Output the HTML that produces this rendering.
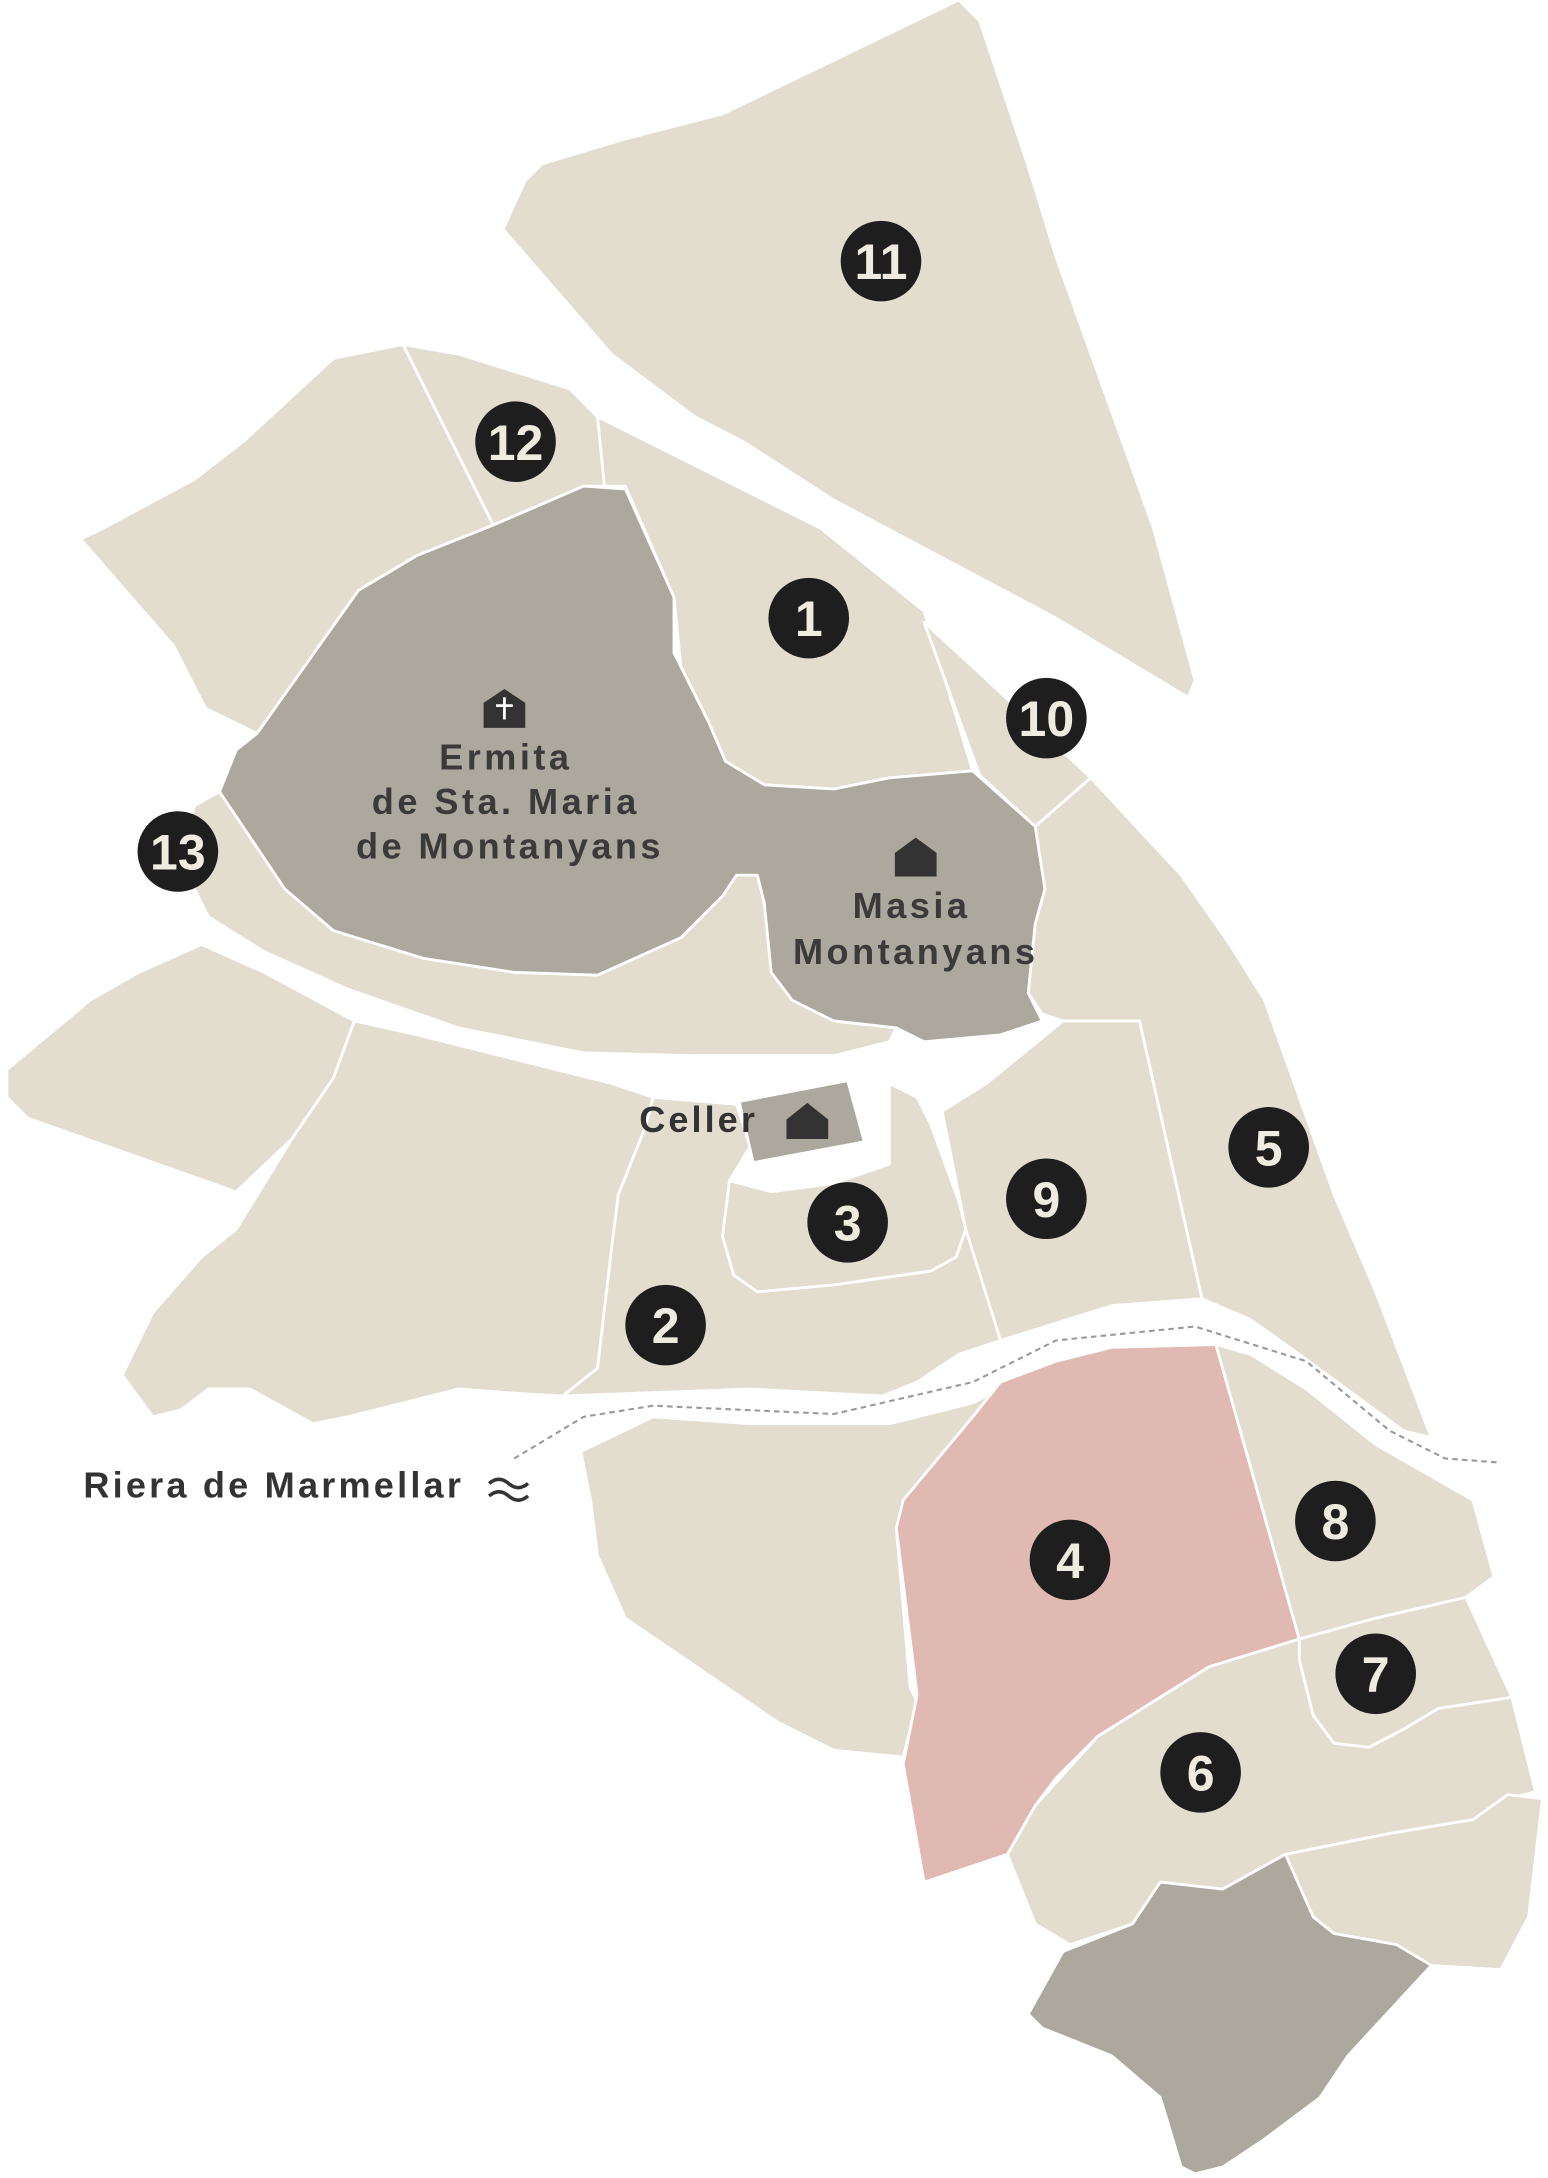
<!DOCTYPE html>
<html><head><meta charset="utf-8"><style>
html,body{margin:0;padding:0;background:#fff;}
svg{display:block;}
text{font-family:"Liberation Sans",sans-serif;font-weight:bold;}
</style></head><body>
<svg width="1548" height="2178" viewBox="0 0 1114 1568" preserveAspectRatio="none" xmlns="http://www.w3.org/2000/svg">
<g stroke="#ffffff" stroke-width="2" stroke-linejoin="round">
<polygon fill="#e3ddd0" points="362,165 378,130 390,118 450,100 520,82 690,0 705,15 740,120 760,185 830,380 860,490 855,502 760,445 600,360 535,318 500,300 440,255"/>
<polygon fill="#e3ddd0" points="58,388 75,380 140,345 175,318 240,258 290,248 355,378 300,400 258,425 185,528 148,510 125,465"/>
<polygon fill="#e3ddd0" points="290,248 330,255 410,280 430,300 435,350 420,350 355,378"/>
<polygon fill="#e3ddd0" points="430,300 490,330 590,380 665,440 700,555 640,560 600,568 550,565 522,548 510,520 490,480 485,430 450,350 435,350"/>
<polygon fill="#e3ddd0" points="665,448 700,480 785,560 745,595 705,558"/>
<polygon fill="#e3ddd0" points="158,570 205,640 240,670 305,690 370,700 430,702 490,675 520,645 530,630 545,630 550,650 555,700 570,720 600,735 645,740 640,750 600,760 500,760 420,758 330,740 250,712 190,685 150,660 130,620 140,580"/>
<polygon fill="#ada89e" points="185,528 258,425 300,400 355,378 420,350 450,352 485,430 485,470 510,520 522,548 550,565 600,568 640,560 700,555 745,595 752,640 745,665 740,715 750,735 720,745 665,750 645,740 600,735 570,720 555,700 550,650 545,630 530,630 520,645 490,675 430,702 370,700 305,690 240,670 205,640 158,570 170,540"/>
<polygon fill="#e3ddd0" points="745,595 785,560 850,630 885,680 910,720 935,790 960,860 990,930 1030,1035 1010,1030 935,975 900,950 865,935 820,735 765,735 750,730 740,715 745,665 752,640"/>
<polygon fill="#e3ddd0" points="5,770 5,790 20,805 170,858 210,820 240,776 255,735 190,700 145,680 100,700 65,720"/>
<polygon fill="#e3ddd0" points="255,735 300,745 440,780 470,790 465,810 445,860 440,900 430,985 405,1005 370,1003 330,1000 250,1020 225,1025 180,1000 150,1000 130,1015 110,1020 88,990 110,945 145,905 170,885 210,820 240,776"/>
<polygon fill="#e3ddd0" points="470,790 530,795 540,825 525,850 520,890 528,918 545,930 600,925 670,915 690,895 700,870 720,965 690,975 660,995 635,1005 540,1000 405,1005 430,985 440,900 445,860 465,810"/>
<polygon fill="#e3ddd0" points="525,850 555,858 600,852 640,838 640,780 660,790 670,810 690,865 695,885 688,905 670,915 600,925 545,930 528,918 520,890"/>
<polygon fill="#e3ddd0" points="678,800 710,780 765,735 820,735 865,935 800,940 720,965 695,885"/>
<polygon fill="#ada89e" points="532,793 610,778 622,822 542,837"/>
<polygon fill="#e3ddd0" points="418,1045 470,1020 540,1025 640,1025 700,1010 720,1000 720,1020 690,1050 650,1085 645,1100 655,1215 660,1225 650,1265 600,1260 560,1240 450,1165 430,1120 425,1080"/>
<polygon fill="#e0b9b3" points="720,995 760,980 800,970 875,968 935,1180 870,1200 830,1225 790,1250 760,1280 745,1300 725,1335 665,1355 650,1270 660,1220 645,1100 650,1080 700,1020"/>
<polygon fill="#e3ddd0" points="875,968 900,975 940,1000 990,1040 1060,1080 1075,1135 1055,1150 990,1165 935,1180"/>
<polygon fill="#e3ddd0" points="935,1180 990,1165 1055,1150 1088,1222 1035,1230 1010,1245 985,1258 960,1255 945,1235 935,1195"/>
<polygon fill="#e3ddd0" points="935,1180 935,1195 945,1235 960,1255 985,1258 1010,1245 1035,1230 1088,1222 1105,1290 1085,1295 1060,1310 1000,1320 925,1335 880,1360 835,1355 815,1385 770,1400 745,1385 725,1335 745,1300 790,1250 830,1225 870,1200"/>
<polygon fill="#e3ddd0" points="925,1335 1000,1320 1060,1310 1085,1292 1110,1295 1100,1380 1080,1418 1030,1415 1005,1400 960,1392 945,1380"/>
<polygon fill="#ada89e" points="835,1355 880,1360 925,1335 945,1380 960,1392 1005,1400 1030,1415 970,1480 950,1510 910,1540 880,1560 860,1565 850,1560 835,1510 800,1480 750,1460 740,1450 765,1405 815,1385"/>
</g>
<polyline fill="none" stroke="#999" stroke-width="1.5" stroke-dasharray="4,3" points="370,1050 420,1020 470,1012 600,1018 700,995 760,965 860,955 940,980 1000,1030 1040,1050 1080,1053"/>
<text x="60" y="1078" font-size="26" fill="#333" letter-spacing="2.3">Riera de Marmellar</text>
<path d="M352,1068 q7,-6 14,0 t14,0 M352,1077 q7,-6 14,0 t14,0" fill="none" stroke="#333" stroke-width="2.5"/>
<path d="M348,506 L363,496 L378,506 L378,524 L348,524 Z" fill="#333"/>
<path d="M363,502 v16 M357,508 h12" stroke="#fff" stroke-width="2"/>
<path d="M644,614 L659,603 L674,614 L674,631 L644,631 Z" fill="#333"/>
<path d="M566,806 L581,794 L596,806 L596,820 L566,820 Z" fill="#333"/>
<g font-size="26" fill="#3a3a3a" text-anchor="middle" letter-spacing="2.5">
<text x="364" y="554">Ermita</text>
<text x="364" y="586">de Sta. Maria</text>
<text x="367" y="618">de Montanyans</text>
<text x="656" y="661">Masia</text>
<text x="659" y="694">Montanyans</text>
</g>
<text x="460" y="815" font-size="26" fill="#333" letter-spacing="2.2">Celler</text>
<g fill="#1e1e1e">
<circle cx="634" cy="188" r="29"/><circle cx="371" cy="318" r="29"/><circle cx="582" cy="445" r="29"/>
<circle cx="753" cy="517" r="29"/><circle cx="128" cy="613" r="29"/><circle cx="913" cy="826" r="29"/>
<circle cx="753" cy="863" r="29"/><circle cx="610" cy="880" r="29"/><circle cx="479" cy="954" r="29"/>
<circle cx="961" cy="1095" r="29"/><circle cx="770" cy="1123" r="29"/><circle cx="990" cy="1205" r="29"/>
<circle cx="864" cy="1276" r="29"/>
</g>
<g font-size="36" fill="#f0ebe0" text-anchor="middle">
<text x="634" y="201">11</text><text x="371" y="331">12</text><text x="582" y="458">1</text>
<text x="753" y="530">10</text><text x="128" y="626">13</text><text x="913" y="839">5</text>
<text x="753" y="876">9</text><text x="610" y="893">3</text><text x="479" y="967">2</text>
<text x="961" y="1108">8</text><text x="770" y="1136">4</text><text x="990" y="1218">7</text>
<text x="864" y="1289">6</text>
</g>
</svg>
</body></html>
